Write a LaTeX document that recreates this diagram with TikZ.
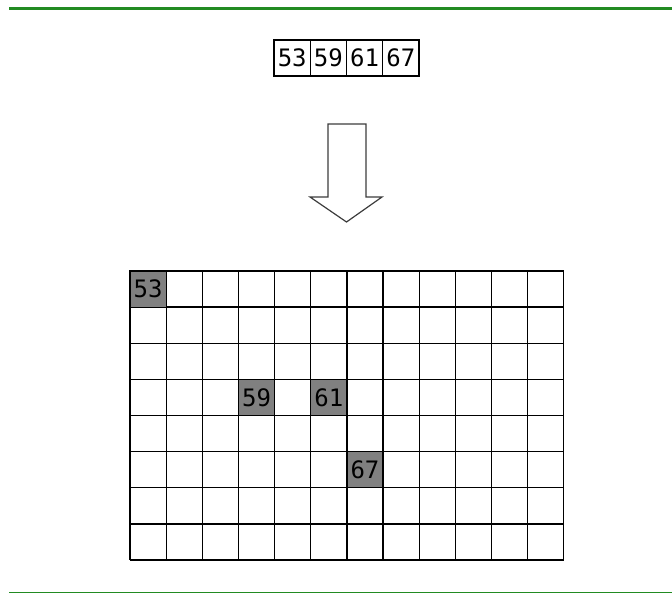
\documentclass[tikz,border=0pt]{standalone}
\usepackage{fontspec}
\newfontfamily\cellfont{DejaVu Sans Mono}
\definecolor{rulegreen}{RGB}{34,139,34}
\definecolor{cellgray}{RGB}{128,128,128}
\definecolor{linegray}{RGB}{60,60,60}
\begin{document}
\begin{tikzpicture}[x=1pt,y=-1pt,
        cell/.style={draw,line width=1.3pt,minimum width=36.2pt,minimum height=36.2pt,inner sep=0pt,font=\cellfont\fontsize{24}{24}\selectfont},
        hit/.style={cell,fill=cellgray}]
        \useasboundingbox (0,0) rectangle (672,593);
        \draw[rulegreen,line width=3pt] (9,8.5) -- (672,8.5);
        \draw[rulegreen,line width=1pt] (9,592) -- (672,592);
        % the list of primes
        \foreach \v [count=\i] in {53,59,61,67}
                \draw (256+36.2*\i,58) node[cell] (a\i) {\v};
        % the arrow
        \draw[linegray,line width=1.2pt] (328,124) -- (366,124) -- (366,197) -- (382,197)
                -- (346.5,222) -- (310,197) -- (328,197) -- cycle;
        % the table
        \foreach \i in {0,...,12}
                \draw[line width=1.3pt] (130+36.15*\i,271) -- (130+36.15*\i,560);
        \foreach \j in {0,...,8}
                \draw[line width=1.3pt] (130,271+36.125*\j) -- (564,271+36.125*\j);
        \draw (130+36.15*0.5,271+36.125*0.5) node[hit] (n53) {53};
        \draw (130+36.15*3.5,271+36.125*3.5) node[hit] (n59) {59};
        \draw (130+36.15*5.5,271+36.125*3.5) node[hit] (n61) {61};
        \draw (130+36.15*6.5,271+36.125*5.5) node[hit] (n67) {67};
\end{tikzpicture}
\end{document}
